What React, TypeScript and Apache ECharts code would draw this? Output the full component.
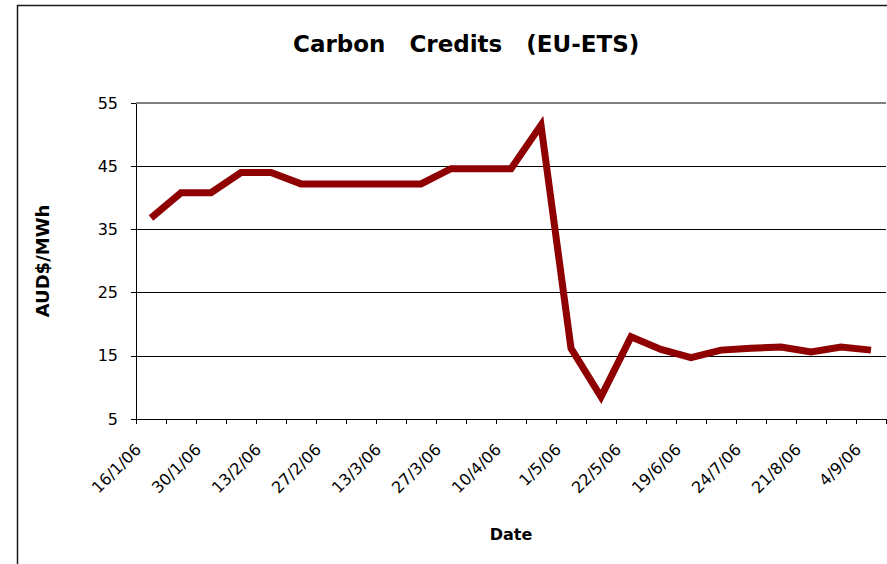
import React, { useEffect, useRef } from "react";
import * as echarts from "echarts";

const titleText = "Carbon   Credits   (EU-ETS)";
const yAxisName = "AUD$/MWh";
const xAxisName = "Date";

const dates = [
  "16/1/06", "23/1/06", "30/1/06", "6/2/06", "13/2/06", "20/2/06", "27/2/06",
  "6/3/06", "13/3/06", "20/3/06", "27/3/06", "3/4/06", "10/4/06", "24/4/06",
  "1/5/06", "8/5/06", "22/5/06", "5/6/06", "19/6/06", "3/7/06", "24/7/06",
  "7/8/06", "21/8/06", "28/8/06", "4/9/06",
];

const prices = [
  36.8, 40.8, 40.8, 44.0, 44.0, 42.2, 42.2, 42.2, 42.2, 42.2, 44.6, 44.6, 44.6,
  51.5, 16.2, 8.5, 18.0, 16.0, 14.7, 15.9, 16.2, 16.4, 15.6, 16.4, 15.9,
];

const yMin = 5;
const yMax = 55;
const yStep = 10;

export default function App() {
  const ref = useRef<HTMLDivElement>(null);

  useEffect(() => {
    document.body.style.margin = "0";
    const chart = echarts.init(ref.current!, undefined, { renderer: "svg" });
    chart.setOption({
      animation: false,
      backgroundColor: "#ffffff",
      title: {
        text: titleText,
        left: 288,
        top: 27,
        textStyle: {
          fontFamily: "DejaVu Sans",
          fontWeight: "bold",
          fontSize: 23,
          color: "#000",
        },
      },
      graphic: [
        {
          type: "rect",
          shape: { x: 17.5, y: 5.5, width: 2000, height: 2000 },
          style: { fill: "none", stroke: "#1a1a1a", lineWidth: 1.5 },
          silent: true,
          z: -1,
        },
      ],
      grid: { left: 136, top: 103, right: 1, bottom: 145, containLabel: false },
      xAxis: {
        type: "category",
        data: dates,
        boundaryGap: true,
        name: xAxisName,
        nameLocation: "middle",
        nameGap: 107,
        nameTextStyle: {
          fontFamily: "DejaVu Sans",
          fontWeight: "bold",
          fontSize: 16,
          color: "#000",
        },
        axisLine: { lineStyle: { color: "#000", width: 1 } },
        axisTick: { show: true, interval: 0, length: 5, lineStyle: { color: "#000" } },
        axisLabel: {
          interval: 1,
          rotate: 45,
          margin: 15,
          padding: [0, 18, 0, 0],
          fontFamily: "DejaVu Sans",
          fontSize: 16,
          color: "#000",
        },
        splitLine: { show: false },
      },
      yAxis: {
        type: "value",
        min: yMin,
        max: yMax,
        interval: yStep,
        name: yAxisName,
        nameLocation: "middle",
        nameRotate: 90,
        nameGap: 85,
        nameTextStyle: {
          fontFamily: "DejaVu Sans",
          fontWeight: "bold",
          fontSize: 18,
          color: "#000",
        },
        axisLine: { show: true, lineStyle: { color: "#000", width: 1 } },
        axisTick: { show: true, length: 5, lineStyle: { color: "#000" } },
        axisLabel: {
          margin: 18,
          fontFamily: "DejaVu Sans",
          fontSize: 16,
          color: "#000",
        },
        splitLine: { show: true, lineStyle: { color: "#000", width: 1 } },
      },
      series: [
        {
          type: "line",
          data: prices,
          symbol: "none",
          lineStyle: { color: "#8f0000", width: 7, cap: "butt", join: "miter" },
          itemStyle: { color: "#8f0000" },
          markLine: {
            silent: true,
            symbol: "none",
            label: { show: false },
            lineStyle: { color: "#808080", width: 2, type: "solid" },
            data: [{ yAxis: yMax }],
          },
          z: 3,
        },
      ],
    });
    return () => chart.dispose();
  }, []);

  return (
    <div
      ref={ref}
      style={{ position: "absolute", left: 0, top: 0, width: 887, height: 564 }}
    />
  );
}
